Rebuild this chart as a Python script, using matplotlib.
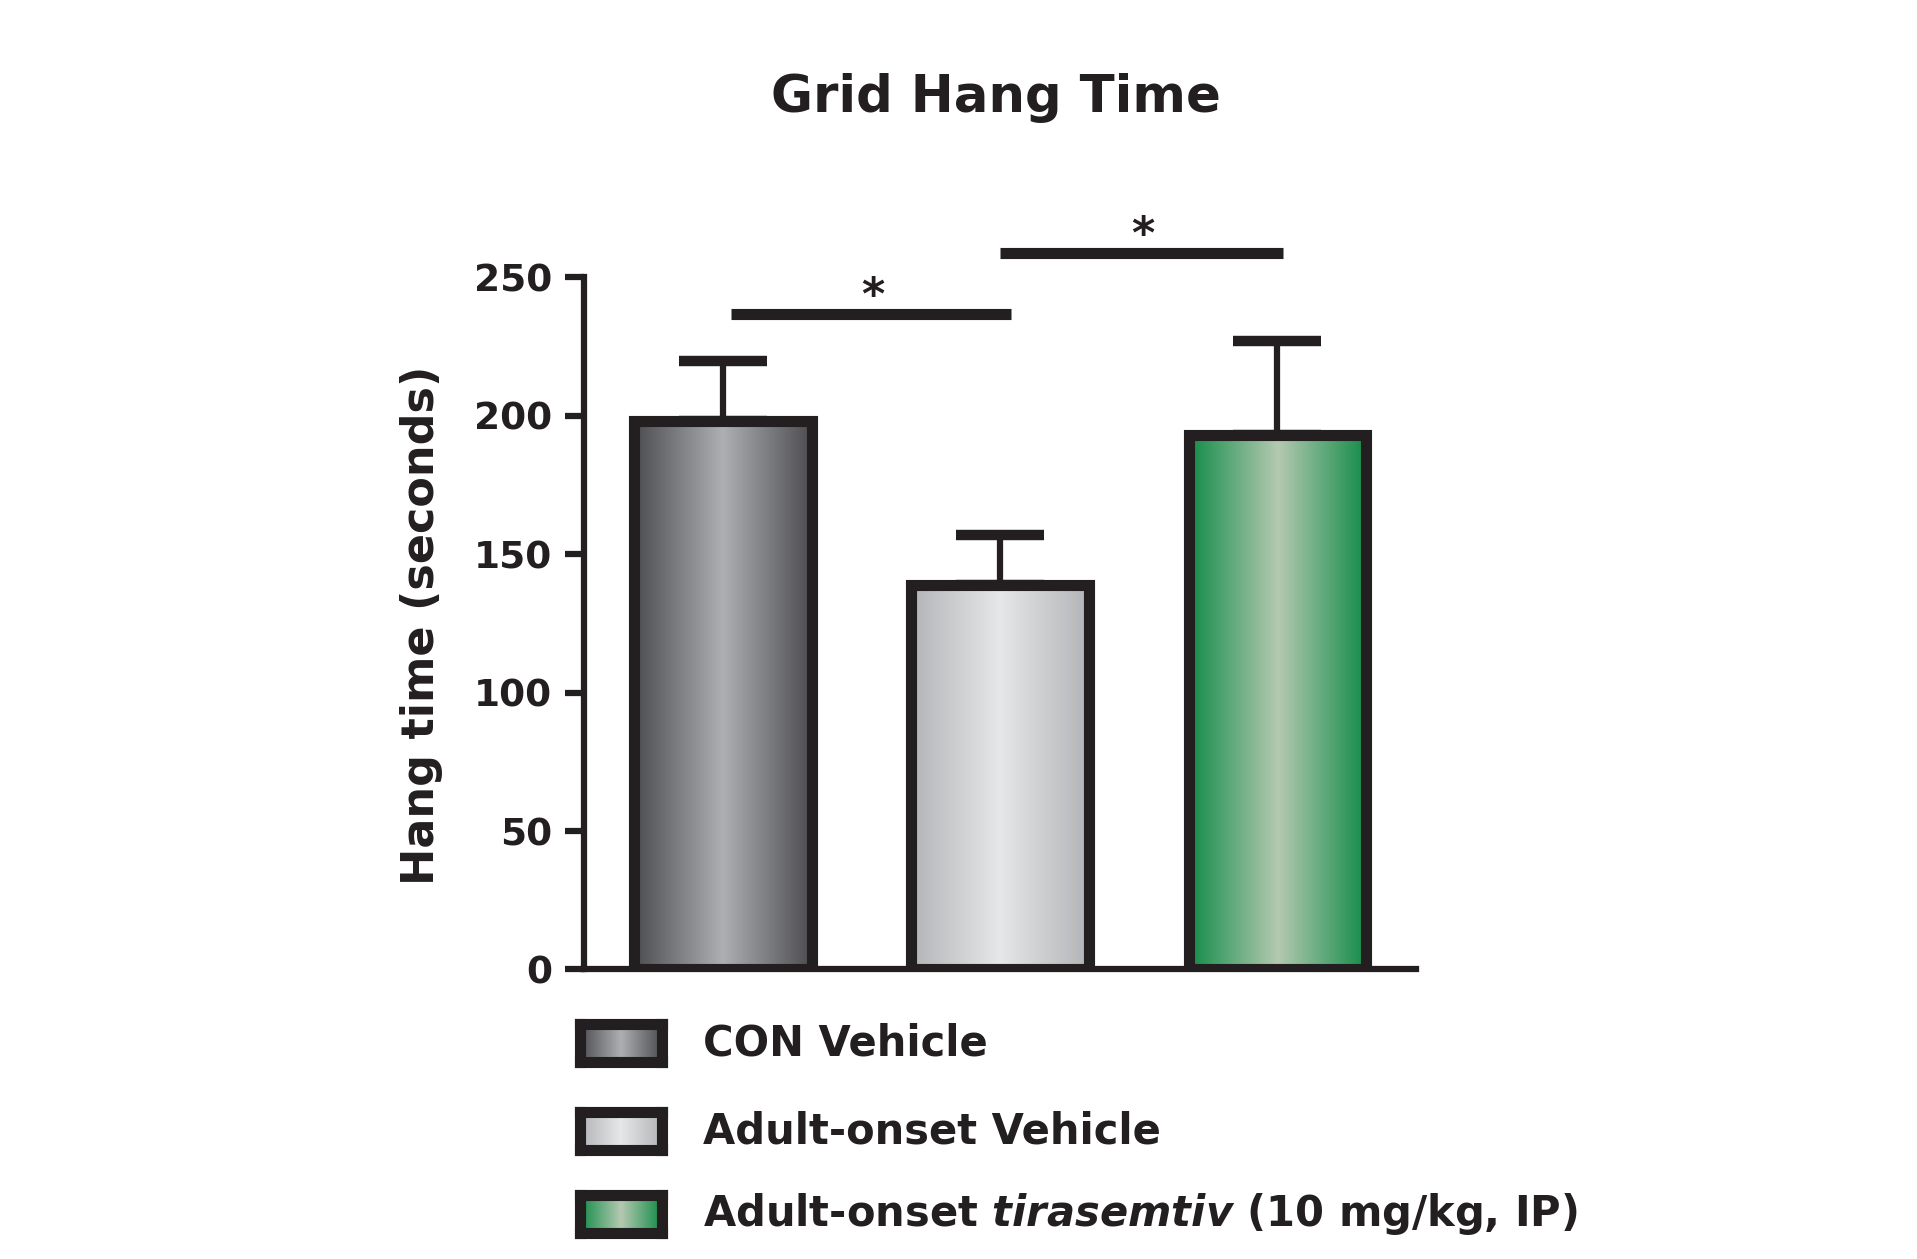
import matplotlib
matplotlib.use("Agg")
import matplotlib.pyplot as plt
import numpy as np

groups = ["CON Vehicle", "Adult-onset Vehicle", r"Adult-onset $\it{tirasemtiv}$ (10 mg/kg, IP)"]
means = [198, 139, 193]
sems = [22, 18, 34]
edge_cols = ["#4d4d50", "#b3b4b7", "#138c48"]
mid_cols = ["#adafb3", "#e6e7e8", "#b4c9b1"]
sig_pairs = [(0.03, 1.04, 236.7), (1.0, 2.02, 258.8)]

ink = "#231f20"
plt.rcParams["font.family"] = "DejaVu Sans"
plt.rcParams["font.weight"] = "bold"
plt.rcParams["mathtext.fontset"] = "custom"
plt.rcParams["mathtext.rm"] = "DejaVu Sans:bold"
plt.rcParams["mathtext.it"] = "DejaVu Sans:italic:bold"

def gradient(c_edge, c_mid, n=256):
    a = np.array(matplotlib.colors.to_rgb(c_edge))
    b = np.array(matplotlib.colors.to_rgb(c_mid))
    t = 1 - np.abs(np.linspace(-1, 1, n))
    return (a[None, :] * (1 - t[:, None]) + b[None, :] * t[:, None])[None, :, :]

fig = plt.figure(figsize=(19.17, 12.59), dpi=100)
ax = fig.add_axes([0.3047, 0.2300, 0.7387 - 0.3047, 0.7796 - 0.2300])

x = np.arange(len(means))
bars = ax.bar(x, means, width=0.64, facecolor="none", edgecolor=ink, linewidth=8, zorder=3)
for b, ce, cm in zip(bars, edge_cols, mid_cols):
    im = ax.imshow(gradient(ce, cm), extent=[b.get_x(), b.get_x() + b.get_width(), 0, b.get_height()],
                   aspect="auto", zorder=2, interpolation="bilinear")
    im.set_clip_path(b)

ax.errorbar(x, means, yerr=[np.zeros(len(sems)), sems], fmt="none", ecolor=ink,
            elinewidth=4.5, capsize=32, capthick=7.5, zorder=1)

for x0, x1, y in sig_pairs:
    ax.plot([x0, x1], [y, y], color=ink, lw=8, solid_capstyle="butt", clip_on=False)
    ax.text((x0 + x1) / 2 + 0.005, y - 1.5, "*", ha="center", va="bottom", fontsize=32, color=ink, clip_on=False)

ax.set_xlim(-0.5, 2.5)
ax.set_ylim(0, 250)
ax.set_yticks([0, 50, 100, 150, 200, 250])
ax.set_xticks([])
ax.spines["top"].set_visible(False)
ax.spines["right"].set_visible(False)
for s in ["left", "bottom"]:
    ax.spines[s].set_linewidth(4.5)
    ax.spines[s].set_color(ink)
ax.tick_params(axis="y", length=14, width=4.5, color=ink, labelsize=27, labelcolor=ink, pad=9)

fig.text(0.2200, 0.503, "Hang time (seconds)", rotation=90, ha="center", va="center",
         fontsize=32, color=ink)
fig.text(0.5196, 0.922, "Grid Hang Time", ha="center", va="center", fontsize=37, color=ink)

# legend drawn by hand: gradient swatch + label
rows_y = [1043, 1131, 1214]
for yy, ce, cm, lab in zip(rows_y, edge_cols, mid_cols, groups):
    lx = fig.add_axes([580 / 1917, 1 - (yy + 19) / 1259, 82 / 1917, 38 / 1259])
    lx.imshow(gradient(ce, cm), aspect="auto", extent=[0, 1, 0, 1], interpolation="bilinear")
    lx.set_xticks([])
    lx.set_yticks([])
    for s in lx.spines.values():
        s.set_linewidth(8)
        s.set_color(ink)
    fig.text(703 / 1917, 1 - yy / 1259, lab, ha="left", va="center", fontsize=30, color=ink)

fig.savefig("out.png", dpi=100)
